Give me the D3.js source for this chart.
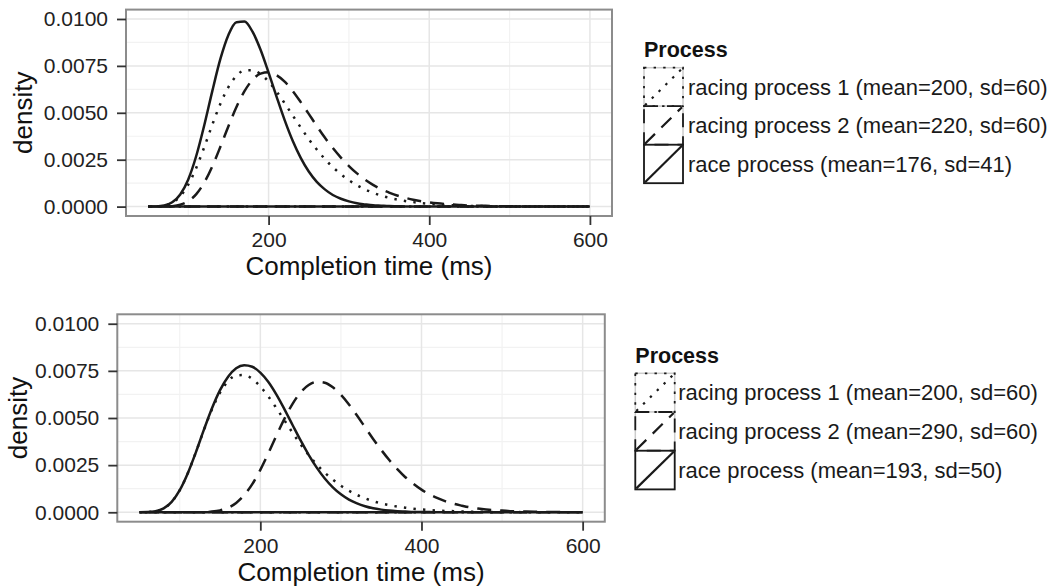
<!DOCTYPE html>
<html>
<head>
<meta charset="utf-8">
<script src="https://cdn.jsdelivr.net/npm/d3@7"></script>
<style>
  body { margin: 0; background: #fff; }
  text { font-family: "Liberation Sans", Arial, Helvetica, sans-serif; }
</style>
</head>
<body>
<div id="chart"></div>
<script>
var times = [50,60,70,80,90,100,110,120,130,140,150,160,170,180,190,200,210,220,230,240,
  250,260,270,280,290,300,310,320,330,340,350,360,370,380,390,400,410,420,430,440,
  450,460,470,480,490,500,510,520,530,540,550,560,570,580,590,600];

// top panel
var top_racing1 = [0,0.000009,0.000054,0.000204,0.000551,0.00117,0.00207,0.00318,0.00437,0.00548,
  0.00637,0.00697,0.00726,0.00727,0.00706,0.00666,0.00613,0.00551,0.00486,0.00422,
  0.00360,0.00304,0.00254,0.00210,0.00173,0.00141,0.00114,0.00092,0.00074,0.00059,
  0.00047,0.00038,0.00030,0.00024,0.00019,0.00015,0.00012,0.00009,0.00007,0.00006,
  0.00004,0.00003,0.00003,0.00002,0.00002,0.00001,0.00001,0.00001,0,0,0,0,0,0,0,0];
var top_racing2 = [0,0,0.000004,0.000025,0.000098,0.000289,0.000669,0.00129,0.00215,0.00319,
  0.00428,0.00531,0.00615,0.00676,0.00709,0.00716,0.00700,0.00666,0.00616,0.00557,
  0.00494,0.00430,0.00368,0.00312,0.00261,0.00216,0.00177,0.00144,0.00116,0.00093,
  0.00075,0.00059,0.00047,0.00037,0.00029,0.00023,0.00018,0.00014,0.00011,0.00008,
  0.00006,0.00005,0.00004,0.00003,0.00002,0.00002,0.00001,0.00001,0.00001,0,0,0,0,0,0,0];
var top_race = [0,0.000009,0.000058,0.000229,0.000648,0.00145,0.00271,0.00435,0.00617,0.00787,
  0.00915,0.00983,0.00986,0.00932,0.00836,0.00714,0.00585,0.00461,0.00351,0.00260,
  0.00187,0.00132,0.00092,0.00062,0.00042,0.00028,0.00018,0.00012,0.00007,0.00005,
  0.00003,0.00002,0.00001,0.00001,0,0,0,0,0,0,
  0,0,0,0,0,0,0,0,0,0,0,0,0,0,0,0];

// bottom panel
var bottom_racing1 = [0,0.000009,0.000054,0.000204,0.000551,0.00117,0.00207,0.00318,0.00436,0.00546,
  0.00635,0.00696,0.00726,0.00728,0.00707,0.00667,0.00614,0.00552,0.00487,0.00422,
  0.00360,0.00304,0.00254,0.00210,0.00173,0.00141,0.00114,0.00092,0.00074,0.00059,
  0.00047,0.00038,0.00030,0.00024,0.00019,0.00015,0.00012,0.00009,0.00007,0.00006,
  0.00004,0.00003,0.00003,0.00002,0.00002,0.00001,0.00001,0.00001,0,0,0,0,0,0,0,0];
var bottom_racing2 = [0,0,0,0,0,0,0,0.000002,0.00001,0.000036,
  0.000101,0.00024,0.000496,0.000907,0.00149,0.00225,0.00313,0.00407,0.00497,0.00575,
  0.00636,0.00675,0.00692,0.00687,0.00663,0.00623,0.00572,0.00513,0.00451,0.00389,
  0.00331,0.00277,0.00229,0.00186,0.00151,0.00120,0.00095,0.00075,0.00058,0.00045,
  0.00035,0.00026,0.00020,0.00015,0.00011,0.00009,0.00006,0.00005,0.00004,0.00003,
  0.00002,0.00001,0.00001,0.00001,0,0];
var bottom_race = [0,0.000009,0.000054,0.000204,0.000551,0.00117,0.00207,0.00318,0.00438,0.00552,
  0.00648,0.00719,0.00764,0.00780,0.00772,0.00741,0.00691,0.00624,0.00546,0.00463,
  0.00381,0.00305,0.00237,0.00179,0.00132,0.00095,0.00067,0.00047,0.00032,0.00021,
  0.00014,0.00009,0.00006,0.00004,0.00002,0.00001,0.00001,0,0,0,
  0,0,0,0,0,0,0,0,0,0,0,0,0,0,0,0];

var top_labels = ["racing process 1 (mean=200, sd=60)", "racing process 2 (mean=220, sd=60)", "race process (mean=176, sd=41)"];
var bottom_labels = ["racing process 1 (mean=200, sd=60)", "racing process 2 (mean=290, sd=60)", "race process (mean=193, sd=50)"];

var xTicks = [200, 400, 600];
var xMinor = [100, 300, 500];
var yTicks = [0, 0.0025, 0.005, 0.0075, 0.01];
var yMinor = [0.00125, 0.00375, 0.00625, 0.00875];

(function(){

  let width = 1062;
  let height = 587;

  let svg = d3.select('#chart')
            .append("svg")
            .attr("width", width)
            .attr("height", height);

  // dotted, dashed, solid  (same order ggplot draws the groups)
  var dashes = ["2.4,7.2", "14,9", null];
  var ink = "#1a1a1a";

  var panels = [
    {series: [top_racing1, top_racing2, top_race], labels: top_labels,
     left: 126, right: 612, top: 9.6, bottom: 216, yTitleX: 32,
     legend: {x: 644, titleY: 56.7, keyTop: 67.7, keyH: 38.5, keyW: 39, labelX: 688}},
    {series: [bottom_racing1, bottom_racing2, bottom_race], labels: bottom_labels,
     left: 117.3, right: 604.8, top: 314.3, bottom: 521.7, yTitleX: 27,
     legend: {x: 635.3, titleY: 362.7, keyTop: 373.3, keyH: 38.7, keyW: 39.4, labelX: 678.3}}
  ];

  panels.forEach(function(p){
    var x = d3.scaleLinear().domain([22.5, 627.5]).range([p.left, p.right]);
    var y = d3.scaleLinear().domain([-0.0005, 0.0105]).range([p.bottom, p.top]);

    var g = svg.append("g");

    // grid
    g.selectAll(".xminor").data(xMinor).enter().append("line")
      .attr("x1", d => x(d)).attr("x2", d => x(d))
      .attr("y1", p.top).attr("y2", p.bottom)
      .attr("stroke", "#f2f2f2").attr("stroke-width", 1.2);
    g.selectAll(".yminor").data(yMinor).enter().append("line")
      .attr("y1", d => y(d)).attr("y2", d => y(d))
      .attr("x1", p.left).attr("x2", p.right)
      .attr("stroke", "#f2f2f2").attr("stroke-width", 1.2);
    g.selectAll(".xmajor").data(xTicks).enter().append("line")
      .attr("x1", d => x(d)).attr("x2", d => x(d))
      .attr("y1", p.top).attr("y2", p.bottom)
      .attr("stroke", "#e6e6e6").attr("stroke-width", 1.5);
    g.selectAll(".ymajor").data(yTicks).enter().append("line")
      .attr("y1", d => y(d)).attr("y2", d => y(d))
      .attr("x1", p.left).attr("x2", p.right)
      .attr("stroke", "#e6e6e6").attr("stroke-width", 1.5);

    // density outlines, closed along the baseline like geom_density
    var line = d3.line()
      .x((d, i) => x(times[i]))
      .y(d => y(d))
      .curve(d3.curveMonotoneX);

    p.series.forEach(function(s, i){
      g.append("path")
        .attr("d", line(s) + "Z")
        .attr("fill", "none")
        .attr("stroke", ink)
        .attr("stroke-width", 2.5)
        .attr("stroke-dasharray", dashes[i]);
    });

    // panel border
    g.append("rect")
      .attr("x", p.left).attr("y", p.top)
      .attr("width", p.right - p.left).attr("height", p.bottom - p.top)
      .attr("fill", "none").attr("stroke", "#8c8c8c").attr("stroke-width", 2);

    // axes
    var yAxis = g.append("g")
      .attr("transform", "translate(" + p.left + ",0)")
      .call(d3.axisLeft(y).tickValues(yTicks).tickFormat(d3.format(".4f")).tickSize(9).tickPadding(9));
    var xAxis = g.append("g")
      .attr("transform", "translate(0," + p.bottom + ")")
      .call(d3.axisBottom(x).tickValues(xTicks).tickSize(9).tickPadding(7));

    [yAxis, xAxis].forEach(function(a){
      a.select(".domain").remove();
      a.selectAll("line").attr("stroke", "#333").attr("stroke-width", 1.8);
      a.selectAll("text").attr("fill", "#222").style("font-size", "21px")
        .style("font-family", '"Liberation Sans", Arial, sans-serif');
    });

    g.append("text")
      .attr("x", (p.left + p.right) / 2)
      .attr("y", p.bottom + 59)
      .attr("text-anchor", "middle")
      .style("font-size", "26px")
      .attr("fill", "#111")
      .text("Completion time (ms)");

    g.append("text")
      .attr("transform", "translate(" + p.yTitleX + "," + (p.top + p.bottom) / 2 + ") rotate(-90)")
      .attr("text-anchor", "middle")
      .style("font-size", "26px")
      .attr("fill", "#111")
      .text("density");

    // legend
    var L = p.legend;
    g.append("text")
      .attr("x", L.x).attr("y", L.titleY)
      .style("font-size", "21.5px").style("font-weight", "bold")
      .attr("fill", "#111")
      .text("Process");

    p.labels.forEach(function(lab, i){
      var ky = L.keyTop + i * L.keyH;
      g.append("rect")
        .attr("x", L.x).attr("y", ky).attr("width", L.keyW).attr("height", L.keyH)
        .attr("fill", "#fff").attr("stroke", "#cccccc").attr("stroke-width", 1.5);
    });
    p.labels.forEach(function(lab, i){
      var ky = L.keyTop + i * L.keyH;
      g.append("rect")
        .attr("x", L.x).attr("y", ky).attr("width", L.keyW).attr("height", L.keyH)
        .attr("fill", "none").attr("stroke", ink).attr("stroke-width", 1.8)
        .attr("stroke-dasharray", dashes[i]);
      g.append("line")
        .attr("x1", L.x + 1).attr("y1", ky + L.keyH - 1)
        .attr("x2", L.x + L.keyW - 1).attr("y2", ky + 1)
        .attr("stroke", ink).attr("stroke-width", 2.2)
        .attr("stroke-dasharray", dashes[i]);
      g.append("text")
        .attr("x", L.labelX).attr("y", ky + L.keyH / 2)
        .attr("dy", "0.35em")
        .style("font-size", "22px")
        .attr("fill", "#1a1a1a")
        .text(lab);
    });
  });

})();
</script>
</body>
</html>
